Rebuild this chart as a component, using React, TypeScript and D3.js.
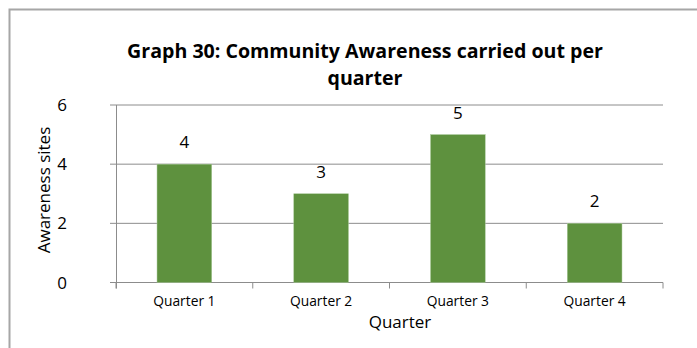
import React from "react";
import * as d3 from "d3";

const categories = ["Quarter 1", "Quarter 2", "Quarter 3", "Quarter 4"];
const values = [4, 3, 5, 2];
const yTicks = [0, 2, 4, 6];
const titleLines = ["Graph 30: Community Awareness carried out per", "quarter"];

const W = 697;
const H = 348;
const FONT = "'Open Sans', sans-serif";

export default function App() {
  const x = d3.scaleBand<string>().domain(categories).range([116, 663]).paddingInner(0.6).paddingOuter(0.3);
  const y = d3.scaleLinear().domain([0, 6]).range([282.5, 105]);
  const step = (663 - 116) / categories.length;
  const bounds = d3.range(categories.length + 1).map((i) => 116 + i * step);
  return (
    <svg width={W} height={H} style={{ position: "absolute", left: 0, top: 0, background: "#fff" }}>
      <rect x={9.5} y={9.5} width={W + 10} height={H + 10} fill="#fff" stroke="#a6a6a6" strokeWidth={2} />
      {titleLines.map((t, i) => (
        <text key={i} x={365} y={58 + i * 27} textAnchor="middle" fontFamily={FONT} fontWeight="bold" fontSize={19.6} fill="#000">
          {t}
        </text>
      ))}
      {yTicks.map((t) => (
        <g key={t}>
          <line x1={110} x2={663} y1={y(t)} y2={y(t)} stroke="#8c8c8c" strokeWidth={1} />
          <text x={67} y={y(t) + 6} textAnchor="end" fontFamily={FONT} fontSize={17} fill="#000">
            {t}
          </text>
        </g>
      ))}
      <line x1={116.5} x2={116.5} y1={y(6)} y2={y(0) + 6} stroke="#8c8c8c" />
      {bounds.map((b, i) => (
        <line key={i} x1={b} x2={b} y1={y(0)} y2={y(0) + 6} stroke="#8c8c8c" />
      ))}
      {categories.map((c, i) => (
        <g key={c}>
          <rect x={x(c)} y={y(values[i])} width={x.bandwidth()} height={y(0) - y(values[i])} fill="#5e913e" stroke="#a9c99a" strokeWidth={0.5} />
          <text x={x(c)! + x.bandwidth() / 2} y={y(values[i]) - 16} textAnchor="middle" fontFamily={FONT} fontSize={17} fill="#000">
            {values[i]}
          </text>
          <text x={x(c)! + x.bandwidth() / 2} y={306} textAnchor="middle" fontFamily={FONT} fontSize={13.8} fill="#000">
            {c}
          </text>
        </g>
      ))}
      <text x={400} y={328} textAnchor="middle" fontFamily={FONT} fontSize={17} fill="#000">
        Quarter
      </text>
      <text transform={`translate(50,190) rotate(-90)`} textAnchor="middle" fontFamily={FONT} fontSize={17} fill="#000">
        Awareness sites
      </text>
    </svg>
  );
}
